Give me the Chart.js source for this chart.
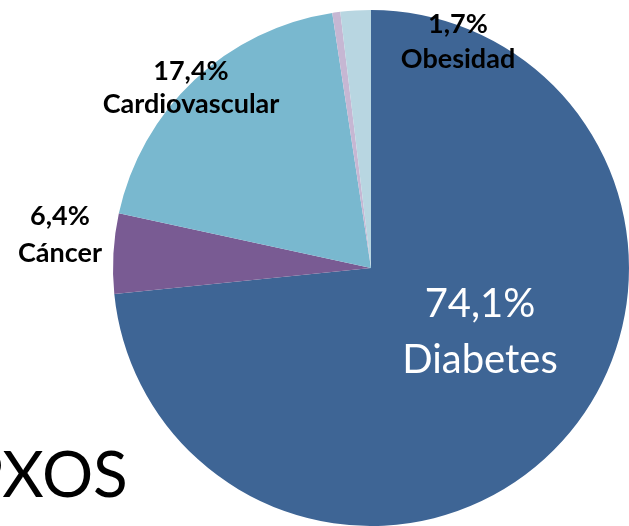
<!DOCTYPE html>
<html>
<head>
<meta charset="utf-8">
<script src="https://cdn.jsdelivr.net/npm/chart.js@4"></script>
<style>
  html, body { margin: 0; padding: 0; background: #fff; overflow: hidden; }
  #wrap { position: relative; width: 629px; height: 526px; }
</style>
</head>
<body>
<div id="wrap"><canvas id="pie" width="629" height="526"></canvas></div>
<script>
// slice shares as drawn on the slide (measured from the wedge angles)
const categories = ["Diabetes", "Cáncer", "Cardiovascular", "Otros", "Obesidad"];
const values = [73.4, 5.0, 19.2, 0.5, 1.9];
// percentages as printed on the slide
const pctLabels = ["74,1%", "6,4%", "17,4%", "", "1,7%"];
const colors = ["#3e6595", "#795b93", "#79b8cf", "#c6b7d3", "#b8d6e1"];

// label placement (center x, baseline of first line, line gap)
const labelSpots = [
  { x: 480, y: 317, gap: 56, color: "#fff", font: "40px Lato" },
  { x: 60, y: 225, gap: 37, color: "#000", font: "bold 27px Lato" },
  { x: 191, y: 80, gap: 33, color: "#000", font: "bold 27px Lato" },
  null,
  { x: 458, y: 33, gap: 35, color: "#000", font: "bold 27px Lato" }
];

const labelPlugin = {
  id: "sliceLabels",
  afterDraw(chart) {
    const ctx = chart.ctx;
    ctx.save();
    ctx.textAlign = "center";
    ctx.textBaseline = "alphabetic";
    categories.forEach((name, i) => {
      const s = labelSpots[i];
      if (!s) return;
      ctx.fillStyle = s.color;
      ctx.font = s.font;
      ctx.fillText(pctLabels[i], s.x, s.y);
      ctx.fillText(name, s.x, s.y + s.gap);
    });
    // leftover slide title, cut off by the frame
    ctx.font = "64px Lato";
    ctx.fillStyle = "#000";
    ctx.textAlign = "left";
    const pw = ctx.measureText("P").width;
    ctx.fillText("PXOS", 3 - pw, 497);
    ctx.restore();
  }
};

new Chart(document.getElementById("pie").getContext("2d"), {
  type: "pie",
  data: {
    labels: categories,
    datasets: [{
      data: values,
      backgroundColor: colors,
      borderWidth: 0,
      hoverOffset: 0
    }]
  },
  options: {
    responsive: false,
    animation: false,
    events: [],
    layout: { padding: { left: 113, top: 10, right: 0, bottom: 0 } },
    plugins: {
      legend: { display: false },
      tooltip: { enabled: false }
    }
  },
  plugins: [labelPlugin]
});
</script>
</body>
</html>
